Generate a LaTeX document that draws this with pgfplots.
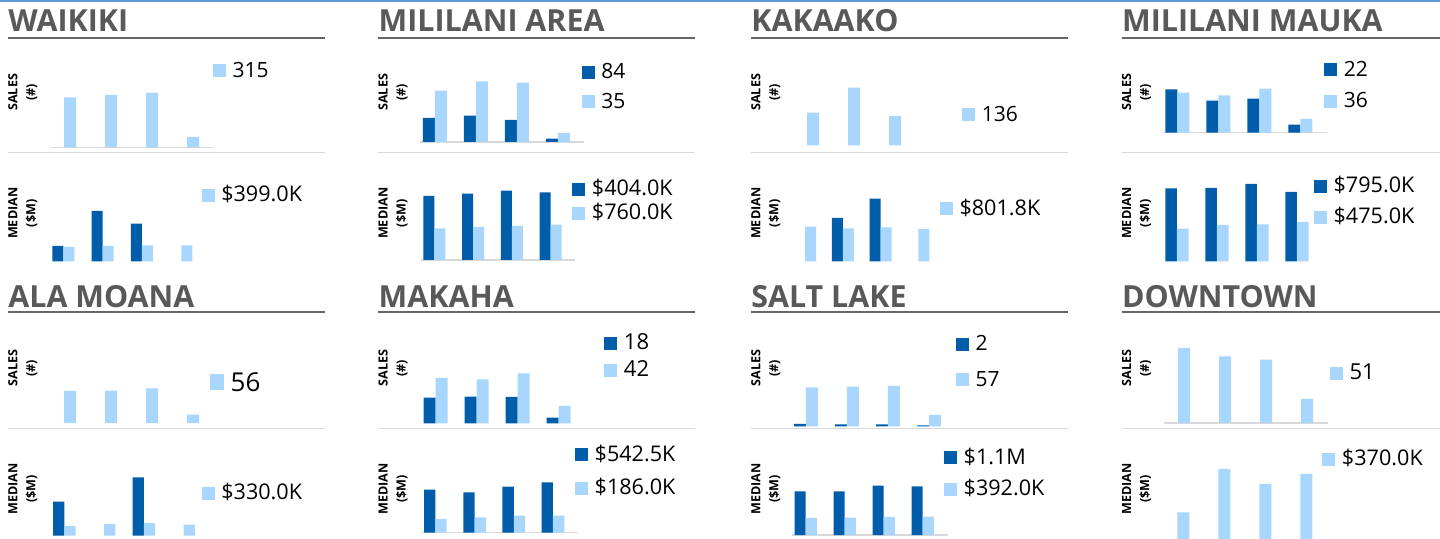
\documentclass[border=0pt]{standalone}
\usepackage{fontspec}
\setmainfont{Open Sans}
\usepackage{pgfplots}
\pgfplotsset{compat=1.18}
\definecolor{dkb}{RGB}{0,93,170}
\definecolor{ltb}{RGB}{168,214,252}
\definecolor{ttl}{RGB}{89,89,89}
\definecolor{ulg}{RGB}{102,102,102}
\definecolor{sepg}{RGB}{217,217,217}
\definecolor{topb}{RGB}{91,155,213}
\pgfplotsset{
  mini/.style={
    scale only axis, anchor=south west, hide axis, clip=false,
    xmin=0, xmax=4, ymin=0, ymax=80, height=40pt,
    ybar, bar width=6pt,
    legend cell align=left,
    legend style={draw=none, fill=none, inner sep=0pt, outer sep=0pt, anchor=south west,
      column sep=3.3pt, row sep=0pt,
      nodes={inner sep=0pt, text height=7pt, text depth=0pt}},
  },
  sales/.style={mini, legend style={font=\fontsize{10.5}{12}\selectfont}},
  med/.style={mini, legend style={font=\fontsize{10.8}{12}\selectfont}},
  dk/.style={fill=dkb, draw=none, legend image code/.code={\fill[dkb] (0pt,-3.5pt) rectangle (6.5pt,3pt);}},
  lt/.style={fill=ltb, draw=none, legend image code/.code={\fill[ltb] (0pt,-3.5pt) rectangle (6.5pt,3pt);}},
  ltbig/.style={fill=ltb, draw=none, legend image code/.code={\fill[ltb] (0pt,-3.5pt) rectangle (7pt,4.5pt);}},
}
\newcommand{\ttlfont}{\fontsize{15.2}{18}\selectfont\bfseries}
\newcommand{\ylfont}{\fontsize{6.3}{9}\selectfont\bfseries}
\begin{document}
\begin{tikzpicture}[x=0.5pt,y=0.5pt]
\clip (0,0) rectangle (1440,-539);
\fill[white] (0,0) rectangle (1440,-539);
\draw[topb, line width=0.8pt] (0,-0.8) -- (1440,-0.8);
% titles
\foreach \xx/\yy/\tt in {8/31.7/WAIKIKI, 378.3/31.7/MILILANI AREA, 751/31.7/KAKAAKO, 1121.7/31.7/MILILANI MAUKA,
  8/307.3/ALA MOANA, 378.3/307.3/MAKAHA, 751/307.3/SALT LAKE, 1121.7/307.3/DOWNTOWN}
  {\node[anchor=base west, inner sep=0pt, text=ttl, font=\ttlfont] at (\xx,-\yy) {\tt};}
% underlines and separators
\foreach \xx/\xe in {8/325, 378.3/695.3, 751/1068, 1121.7/1440}{
  \draw[ulg, line width=1.25pt] (\xx,-37.9) -- (\xe,-37.9);
  \draw[ulg, line width=1.25pt] (\xx,-312) -- (\xe,-312);
  \draw[sepg, line width=0.7pt] (\xx,-152.3) -- (\xe,-152.3);
  \draw[sepg, line width=0.7pt] (\xx,-428.3) -- (\xe,-428.3);
}
% y labels
\foreach \xx in {22.8, 393.1, 765.8, 1136.5}{
  \node[rotate=90, align=center, inner sep=0pt, font=\ylfont] at (\xx,-92.3) {SALES\\(\#)};
  \node[rotate=90, align=center, inner sep=0pt, font=\ylfont] at (\xx,-213.2) {MEDIAN\\(\$M)};
  \node[rotate=90, align=center, inner sep=0pt, font=\ylfont] at (\xx,-368.2) {SALES\\(\#)};
  \node[rotate=90, align=center, inner sep=0pt, font=\ylfont] at (\xx,-488.8) {MEDIAN\\(\$M)};
}
\coordinate (S1) at (49.5,-147.3);
\coordinate (S2) at (420.3,-142);
\coordinate (S3) at (792.7,-145.3);
\coordinate (S4) at (1162.8,-132.7);
\coordinate (S5) at (49.5,-423);
\coordinate (S6) at (421,-423.3);
\coordinate (S7) at (791.3,-426.3);
\coordinate (S8) at (1163.7,-423);
\coordinate (M1) at (49.2,-261.5);
\coordinate (M2) at (420.6,-260);
\coordinate (M3) at (791.6,-261.5);
\coordinate (M4) at (1162.8,-261.5);
\coordinate (M5) at (50.2,-535.7);
\coordinate (M6) at (421.4,-532.5);
\coordinate (M7) at (791.8,-535);
\coordinate (M8) at (1162.8,-541);

% ---------- WAIKIKI
\begin{axis}[sales, at={(S1)}, width=82pt, legend style={at={(0.997,0.8725)}}]
\draw[sepg, line width=0.6pt] (axis cs:0,0) -- (axis cs:4,0);
\addplot[lt, bar shift=0pt] coordinates {(0.5,50) (1.5,52.3) (2.5,54.3) (3.5,10.3)};
\addlegendentry{315}
\end{axis}
\begin{axis}[med, at={(M1)}, width=78.6pt, bar width=5.5pt, legend style={at={(0.970,0.7475)}}]
\addplot[dk, bar shift=-5.5pt, forget plot] coordinates {(0.5,15.5) (1.5,50.5) (2.5,37.8)};
\addplot[lt, bar shift=0pt] coordinates {(0.5,14.5) (1.5,15.5) (2.5,16.2) (3.5,16.2)};
\addlegendentry{\$399.0K}
\end{axis}
% ---------- MILILANI AREA
\begin{axis}[sales, at={(S2)}, width=82pt, legend style={at={(0.984,0.419)}, row sep=7.75pt}]
\draw[sepg, line width=0.6pt] (axis cs:0,0) -- (axis cs:4,0);
\addplot[dk, bar shift=-6pt] coordinates {(0.5,24) (1.5,26.3) (2.5,22) (3.5,3.3)};
\addplot[lt, bar shift=0pt] coordinates {(0.5,51.3) (1.5,60.7) (2.5,59.3) (3.5,9)};
\addlegendentry{84}
\addlegendentry{35}
\end{axis}
\begin{axis}[med, at={(M2)}, width=77.4pt, bar width=5.5pt, legend style={at={(0.980,0.5)}, row sep=5pt}]
\draw[sepg, line width=0.6pt] (axis cs:0,0) -- (axis cs:4,0);
\addplot[dk, bar shift=-5.5pt] coordinates {(0.5,64) (1.5,66.3) (2.5,69.3) (3.5,67.7)};
\addplot[lt, bar shift=0pt] coordinates {(0.5,31.7) (1.5,33) (2.5,34) (3.5,35.3)};
\addlegendentry{\$404.0K}
\addlegendentry{\$760.0K}
\end{axis}
% ---------- KAKAAKO
\begin{axis}[sales, at={(S3)}, width=82pt, legend style={at={(1.034,0.30)}}]
\addplot[lt, bar shift=0pt] coordinates {(0.5,32.7) (1.5,57.7) (2.5,29.3)};
\addlegendentry{136}
\end{axis}
\begin{axis}[med, at={(M3)}, width=75.6pt, bar width=5.5pt, legend style={at={(0.981,0.581)}}]
\addplot[dk, bar shift=-5.5pt, forget plot] coordinates {(1.5,43.5) (2.5,62.8)};
\addplot[lt, bar shift=0pt] coordinates {(0.5,34.8) (1.5,33.2) (2.5,34.2) (3.5,32.5)};
\addlegendentry{\$801.8K}
\end{axis}
% ---------- MILILANI MAUKA
\begin{axis}[sales, at={(S4)}, width=82pt, legend style={at={(0.985,0.309)}, row sep=8.75pt}]
\draw[sepg, line width=0.6pt] (axis cs:0,0) -- (axis cs:4,0);
\addplot[dk, bar shift=-6pt] coordinates {(0.5,43.4) (1.5,32) (2.5,34) (3.5,8)};
\addplot[lt, bar shift=0pt] coordinates {(0.5,40) (1.5,37.4) (2.5,44) (3.5,13.7)};
\addlegendentry{22}
\addlegendentry{36}
\end{axis}
\begin{axis}[med, at={(M4)}, width=80pt, bar width=5.85pt, legend style={at={(0.945,0.469)}, row sep=8.5pt}]
\addplot[dk, bar shift=-5.85pt] coordinates {(0.5,73.2) (1.5,73.5) (2.5,77.5) (3.5,69.5)};
\addplot[lt, bar shift=0pt] coordinates {(0.5,32.8) (1.5,36.5) (2.5,37.2) (3.5,39.5)};
\addlegendentry{\$795.0K}
\addlegendentry{\$475.0K}
\end{axis}
% ---------- ALA MOANA
\begin{axis}[sales, at={(S5)}, width=82pt, legend style={at={(0.979,0.3875)}, font=\fontsize{13}{15}\selectfont, nodes={text height=9pt}}]
\addplot[ltbig, bar shift=0pt] coordinates {(0.5,32) (1.5,32.3) (2.5,34.7) (3.5,8.3)};
\addlegendentry{56}
\end{axis}
\begin{axis}[med, at={(M5)}, width=79.4pt, bar width=5.65pt, legend style={at={(0.954,0.45)}}]
\addplot[dk, bar shift=-5.65pt, forget plot] coordinates {(0.5,34) (2.5,58.4)};
\addplot[lt, bar shift=0pt] coordinates {(0.5,9.7) (1.5,11.7) (2.5,12.7) (3.5,11)};
\addlegendentry{\$330.0K}
\end{axis}
% ---------- MAKAHA
\begin{axis}[sales, at={(S6)}, width=82pt, legend style={at={(1.118,0.5825)}, row sep=6.35pt, font=\fontsize{11}{13}\selectfont}]
\addplot[dk, bar shift=-6pt] coordinates {(0.5,25.6) (1.5,26.6) (2.5,26.3) (3.5,5.6)};
\addplot[lt, bar shift=0pt] coordinates {(0.5,45.3) (1.5,44) (2.5,50) (3.5,17.3)};
\addlegendentry{18}
\addlegendentry{42}
\end{axis}
\begin{axis}[med, at={(M6)}, width=78.4pt, bar width=5.65pt, legend style={at={(0.980,0.469)}, row sep=9.85pt}]
\draw[sepg, line width=0.6pt] (axis cs:0,0) -- (axis cs:4,0);
\addplot[dk, bar shift=-5.65pt] coordinates {(0.5,42.8) (1.5,40.2) (2.5,45.8) (3.5,50.2)};
\addplot[lt, bar shift=0pt] coordinates {(0.5,13.5) (1.5,15.2) (2.5,16.8) (3.5,16.8)};
\addlegendentry{\$542.5K}
\addlegendentry{\$186.0K}
\end{axis}
% ---------- SALT LAKE
\begin{axis}[sales, at={(S7)}, width=82pt, legend style={at={(1.004,0.5)}, row sep=10.65pt}]
\addplot[dk, bar shift=-6pt] coordinates {(0.5,2.3) (1.5,2) (2.5,2) (3.5,1)};
\addplot[lt, bar shift=0pt] coordinates {(0.5,39) (1.5,39.6) (2.5,40.3) (3.5,11.3)};
\addlegendentry{2}
\addlegendentry{57}
\end{axis}
\begin{axis}[med, at={(M7)}, width=78pt, bar width=5.6pt, legend style={at={(0.976,0.491)}, row sep=8.85pt}]
\draw[sepg, line width=0.6pt] (axis cs:0,0) -- (axis cs:4,0);
\addplot[dk, bar shift=-5.6pt] coordinates {(0.5,43.7) (1.5,43.7) (2.5,49.3) (3.5,48.7)};
\addplot[lt, bar shift=0pt] coordinates {(0.5,17) (1.5,17.3) (2.5,18) (3.5,18.3)};
\addlegendentry{\$1.1M}
\addlegendentry{\$392.0K}
\end{axis}
% ---------- DOWNTOWN
\begin{axis}[sales, at={(S8)}, width=82pt, legend style={at={(1.014,0.5375)}, font=\fontsize{11}{13}\selectfont}]
\draw[sepg, line width=0.6pt] (axis cs:0,0) -- (axis cs:4,0);
\addplot[lt, bar shift=0pt] coordinates {(0.5,75) (1.5,66.7) (2.5,63.3) (3.5,24)};
\addlegendentry{51}
\end{axis}
\begin{axis}[med, at={(M8)}, width=82pt, bar width=6pt, legend style={at={(0.973,0.941)}}]
\addplot[lt, bar shift=0pt] coordinates {(0.5,28.7) (1.5,72) (2.5,57) (3.5,67)};
\addlegendentry{\$370.0K}
\end{axis}
\end{tikzpicture}
\end{document}
